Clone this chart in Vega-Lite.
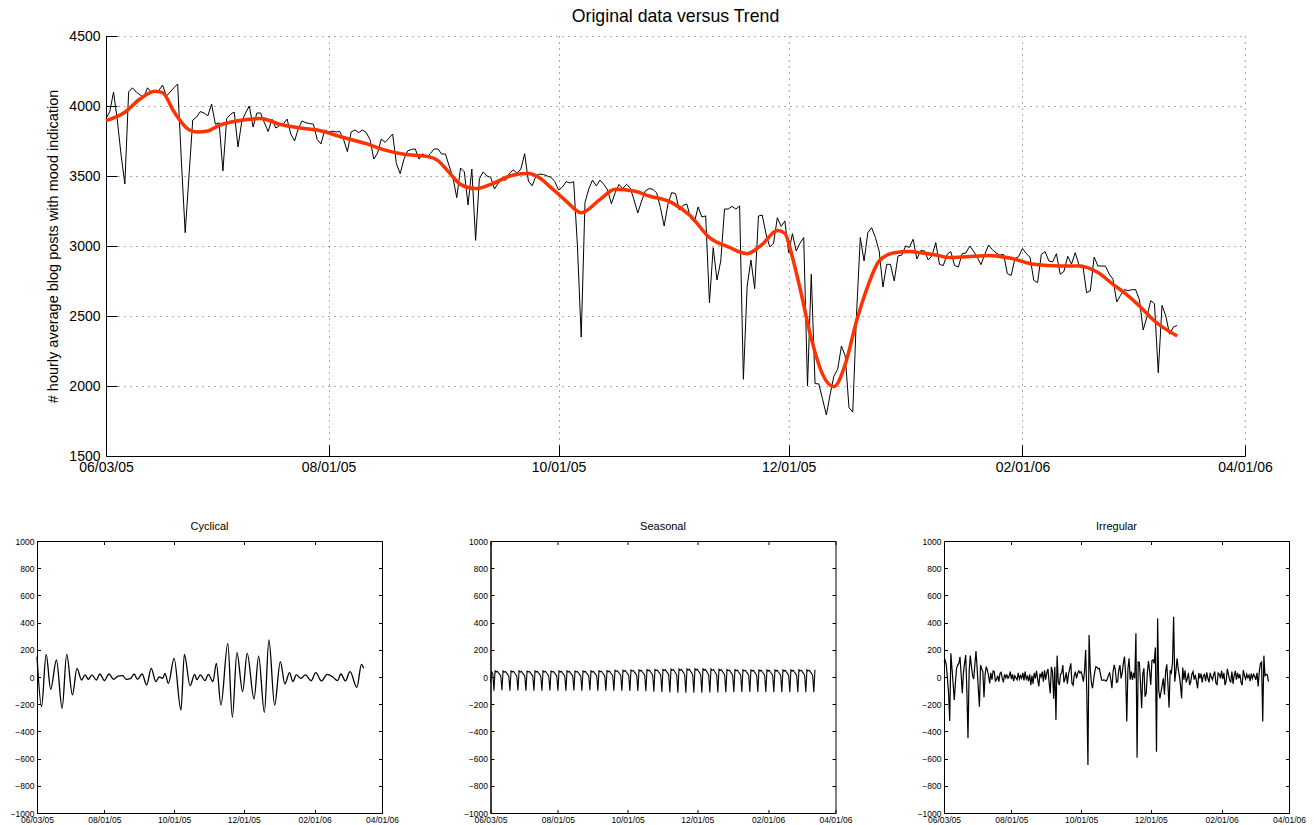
{
  "$schema": "https://vega.github.io/schema/vega-lite/v6.json",
  "background": "white",
  "padding": {"left": 9, "top": 8, "right": 3, "bottom": 2},
  "spacing": 46,
  "center": false,
  "config": {
    "font": "Liberation Sans",
    "axis": {"labelFont": "Liberation Sans", "titleFont": "Liberation Sans", "labelColor": "black", "titleColor": "black", "domainColor": "black", "tickColor": "black", "titleFontWeight": "normal", "labelFlush": false, "labelOverlap": false},
    "title": {"font": "Liberation Sans", "fontWeight": "normal", "color": "black"}
  },
  "datasets": {
    "daily": [
      {"date":"2005-06-03","orig":3910,"seas":-40,"irr":113},
      {"date":"2005-06-04","orig":3960,"seas":40,"irr":125},
      {"date":"2005-06-05","orig":4100,"seas":25,"irr":90},
      {"date":"2005-06-06","orig":3900,"seas":-100,"irr":-10},
      {"date":"2005-06-07","orig":3650,"seas":45,"irr":-120},
      {"date":"2005-06-08","orig":3443,"seas":37,"irr":-323},
      {"date":"2005-06-09","orig":4100,"seas":42,"irr":174},
      {"date":"2005-06-10","orig":4130,"seas":30,"irr":60},
      {"date":"2005-06-11","orig":4100,"seas":20,"irr":-50},
      {"date":"2005-06-12","orig":4080,"seas":7,"irr":-169},
      {"date":"2005-06-13","orig":4060,"seas":-98,"irr":-40},
      {"date":"2005-06-14","orig":4130,"seas":44,"irr":64},
      {"date":"2005-06-15","orig":4100,"seas":36,"irr":88},
      {"date":"2005-06-16","orig":4110,"seas":41,"irr":100},
      {"date":"2005-06-17","orig":4110,"seas":30,"irr":149},
      {"date":"2005-06-18","orig":4150,"seas":19,"irr":20},
      {"date":"2005-06-19","orig":4070,"seas":6,"irr":-120},
      {"date":"2005-06-20","orig":4100,"seas":-100,"irr":30},
      {"date":"2005-06-21","orig":4130,"seas":45,"irr":100},
      {"date":"2005-06-22","orig":4157,"seas":37,"irr":162},
      {"date":"2005-06-23","orig":3600,"seas":42,"irr":-100},
      {"date":"2005-06-24","orig":3095,"seas":31,"irr":-450},
      {"date":"2005-06-25","orig":3500,"seas":20,"irr":40},
      {"date":"2005-06-26","orig":3900,"seas":7,"irr":157},
      {"date":"2005-06-27","orig":3920,"seas":-99,"irr":80},
      {"date":"2005-06-28","orig":3960,"seas":45,"irr":10},
      {"date":"2005-06-29","orig":3950,"seas":36,"irr":-15},
      {"date":"2005-06-30","orig":3930,"seas":42,"irr":90},
      {"date":"2005-07-01","orig":4014,"seas":30,"irr":191},
      {"date":"2005-07-02","orig":3870,"seas":20,"irr":64},
      {"date":"2005-07-03","orig":3880,"seas":8,"irr":-80},
      {"date":"2005-07-04","orig":3536,"seas":-100,"irr":-218},
      {"date":"2005-07-05","orig":3910,"seas":44,"irr":88},
      {"date":"2005-07-06","orig":3940,"seas":37,"irr":60},
      {"date":"2005-07-07","orig":3957,"seas":41,"irr":39},
      {"date":"2005-07-08","orig":3707,"seas":30,"irr":-149},
      {"date":"2005-07-09","orig":3890,"seas":19,"irr":20},
      {"date":"2005-07-10","orig":3950,"seas":7,"irr":76},
      {"date":"2005-07-11","orig":4000,"seas":-101,"irr":51},
      {"date":"2005-07-12","orig":3850,"seas":45,"irr":10},
      {"date":"2005-07-13","orig":3950,"seas":37,"irr":-47},
      {"date":"2005-07-14","orig":3950,"seas":42,"irr":30},
      {"date":"2005-07-15","orig":3880,"seas":30,"irr":-20},
      {"date":"2005-07-16","orig":3817,"seas":20,"irr":45},
      {"date":"2005-07-17","orig":3907,"seas":6,"irr":40},
      {"date":"2005-07-18","orig":3843,"seas":-100,"irr":-30},
      {"date":"2005-07-19","orig":3860,"seas":45,"irr":-20},
      {"date":"2005-07-20","orig":3870,"seas":36,"irr":10},
      {"date":"2005-07-21","orig":3907,"seas":42,"irr":-35},
      {"date":"2005-07-22","orig":3800,"seas":31,"irr":25},
      {"date":"2005-07-23","orig":3750,"seas":20,"irr":35},
      {"date":"2005-07-24","orig":3840,"seas":7,"irr":-10},
      {"date":"2005-07-25","orig":3893,"seas":-99,"irr":-40},
      {"date":"2005-07-26","orig":3880,"seas":44,"irr":20},
      {"date":"2005-07-27","orig":3875,"seas":37,"irr":-5},
      {"date":"2005-07-28","orig":3870,"seas":41,"irr":15},
      {"date":"2005-07-29","orig":3760,"seas":30,"irr":-10},
      {"date":"2005-07-30","orig":3729,"seas":19,"irr":5},
      {"date":"2005-07-31","orig":3829,"seas":7,"irr":40},
      {"date":"2005-08-01","orig":3815,"seas":-100,"irr":-15},
      {"date":"2005-08-02","orig":3820,"seas":45,"irr":20},
      {"date":"2005-08-03","orig":3815,"seas":37,"irr":-30},
      {"date":"2005-08-04","orig":3817,"seas":42,"irr":10},
      {"date":"2005-08-05","orig":3760,"seas":30,"irr":-5},
      {"date":"2005-08-06","orig":3674,"seas":20,"irr":-20},
      {"date":"2005-08-07","orig":3814,"seas":8,"irr":30},
      {"date":"2005-08-08","orig":3829,"seas":-100,"irr":-15},
      {"date":"2005-08-09","orig":3810,"seas":45,"irr":10},
      {"date":"2005-08-10","orig":3829,"seas":36,"irr":-10},
      {"date":"2005-08-11","orig":3810,"seas":42,"irr":30},
      {"date":"2005-08-12","orig":3760,"seas":30,"irr":-25},
      {"date":"2005-08-13","orig":3621,"seas":20,"irr":40},
      {"date":"2005-08-14","orig":3664,"seas":7,"irr":-15},
      {"date":"2005-08-15","orig":3764,"seas":-99,"irr":5},
      {"date":"2005-08-16","orig":3740,"seas":44,"irr":-30},
      {"date":"2005-08-17","orig":3770,"seas":37,"irr":20},
      {"date":"2005-08-18","orig":3800,"seas":41,"irr":-60},
      {"date":"2005-08-19","orig":3588,"seas":31,"irr":10},
      {"date":"2005-08-20","orig":3517,"seas":19,"irr":-50},
      {"date":"2005-08-21","orig":3620,"seas":6,"irr":30},
      {"date":"2005-08-22","orig":3680,"seas":-100,"irr":-10},
      {"date":"2005-08-23","orig":3690,"seas":45,"irr":45},
      {"date":"2005-08-24","orig":3693,"seas":37,"irr":-20},
      {"date":"2005-08-25","orig":3621,"seas":42,"irr":-70},
      {"date":"2005-08-26","orig":3660,"seas":30,"irr":25},
      {"date":"2005-08-27","orig":3630,"seas":20,"irr":0},
      {"date":"2005-08-28","orig":3660,"seas":7,"irr":40},
      {"date":"2005-08-29","orig":3693,"seas":-98,"irr":-35},
      {"date":"2005-08-30","orig":3693,"seas":45,"irr":50},
      {"date":"2005-08-31","orig":3657,"seas":36,"irr":-20},
      {"date":"2005-09-01","orig":3657,"seas":42,"irr":30},
      {"date":"2005-09-02","orig":3571,"seas":30,"irr":60},
      {"date":"2005-09-03","orig":3488,"seas":20,"irr":-40},
      {"date":"2005-09-04","orig":3345,"seas":8,"irr":-120},
      {"date":"2005-09-05","orig":3557,"seas":-100,"irr":75},
      {"date":"2005-09-06","orig":3530,"seas":46,"irr":40},
      {"date":"2005-09-07","orig":3293,"seas":38,"irr":-160},
      {"date":"2005-09-08","orig":3550,"seas":43,"irr":76},
      {"date":"2005-09-09","orig":3040,"seas":31,"irr":-316},
      {"date":"2005-09-10","orig":3479,"seas":21,"irr":157},
      {"date":"2005-09-11","orig":3529,"seas":8,"irr":-34},
      {"date":"2005-09-12","orig":3500,"seas":-100,"irr":-60},
      {"date":"2005-09-13","orig":3490,"seas":47,"irr":20},
      {"date":"2005-09-14","orig":3407,"seas":39,"irr":30},
      {"date":"2005-09-15","orig":3450,"seas":44,"irr":88},
      {"date":"2005-09-16","orig":3470,"seas":32,"irr":-40},
      {"date":"2005-09-17","orig":3471,"seas":22,"irr":-10},
      {"date":"2005-09-18","orig":3521,"seas":9,"irr":34},
      {"date":"2005-09-19","orig":3543,"seas":-101,"irr":-50},
      {"date":"2005-09-20","orig":3520,"seas":49,"irr":20},
      {"date":"2005-09-21","orig":3550,"seas":41,"irr":60},
      {"date":"2005-09-22","orig":3659,"seas":46,"irr":100},
      {"date":"2005-09-23","orig":3464,"seas":34,"irr":-47},
      {"date":"2005-09-24","orig":3430,"seas":24,"irr":-60},
      {"date":"2005-09-25","orig":3500,"seas":11,"irr":10},
      {"date":"2005-09-26","orig":3514,"seas":-100,"irr":40},
      {"date":"2005-09-27","orig":3510,"seas":50,"irr":-10},
      {"date":"2005-09-28","orig":3500,"seas":42,"irr":27},
      {"date":"2005-09-29","orig":3490,"seas":47,"irr":45},
      {"date":"2005-09-30","orig":3460,"seas":35,"irr":30},
      {"date":"2005-10-01","orig":3400,"seas":25,"irr":39},
      {"date":"2005-10-02","orig":3420,"seas":12,"irr":10},
      {"date":"2005-10-03","orig":3460,"seas":-102,"irr":-34},
      {"date":"2005-10-04","orig":3450,"seas":51,"irr":40},
      {"date":"2005-10-05","orig":3460,"seas":43,"irr":198},
      {"date":"2005-10-06","orig":3000,"seas":48,"irr":-120},
      {"date":"2005-10-07","orig":2350,"seas":36,"irr":-647},
      {"date":"2005-10-08","orig":3310,"seas":25,"irr":309},
      {"date":"2005-10-09","orig":3407,"seas":12,"irr":60},
      {"date":"2005-10-10","orig":3471,"seas":-103,"irr":-40},
      {"date":"2005-10-11","orig":3429,"seas":52,"irr":-83},
      {"date":"2005-10-12","orig":3471,"seas":44,"irr":-20},
      {"date":"2005-10-13","orig":3440,"seas":49,"irr":40},
      {"date":"2005-10-14","orig":3400,"seas":37,"irr":76},
      {"date":"2005-10-15","orig":3302,"seas":26,"irr":70},
      {"date":"2005-10-16","orig":3380,"seas":13,"irr":60},
      {"date":"2005-10-17","orig":3440,"seas":-105,"irr":64},
      {"date":"2005-10-18","orig":3410,"seas":54,"irr":20},
      {"date":"2005-10-19","orig":3440,"seas":46,"irr":-22},
      {"date":"2005-10-20","orig":3415,"seas":51,"irr":-25},
      {"date":"2005-10-21","orig":3330,"seas":39,"irr":-20},
      {"date":"2005-10-22","orig":3236,"seas":28,"irr":-25},
      {"date":"2005-10-23","orig":3320,"seas":14,"irr":-30},
      {"date":"2005-10-24","orig":3393,"seas":-108,"irr":-15},
      {"date":"2005-10-25","orig":3410,"seas":55,"irr":15},
      {"date":"2005-10-26","orig":3405,"seas":47,"irr":30},
      {"date":"2005-10-27","orig":3380,"seas":52,"irr":-20},
      {"date":"2005-10-28","orig":3275,"seas":40,"irr":-83},
      {"date":"2005-10-29","orig":3143,"seas":29,"irr":40},
      {"date":"2005-10-30","orig":3300,"seas":14,"irr":90},
      {"date":"2005-10-31","orig":3381,"seas":-110,"irr":51},
      {"date":"2005-11-01","orig":3375,"seas":56,"irr":-40},
      {"date":"2005-11-02","orig":3257,"seas":48,"irr":-34},
      {"date":"2005-11-03","orig":3290,"seas":54,"irr":50},
      {"date":"2005-11-04","orig":3300,"seas":41,"irr":88},
      {"date":"2005-11-05","orig":3200,"seas":30,"irr":-10},
      {"date":"2005-11-06","orig":3170,"seas":15,"irr":30},
      {"date":"2005-11-07","orig":3279,"seas":-113,"irr":100},
      {"date":"2005-11-08","orig":3207,"seas":58,"irr":150},
      {"date":"2005-11-09","orig":3215,"seas":49,"irr":20},
      {"date":"2005-11-10","orig":2595,"seas":55,"irr":-328},
      {"date":"2005-11-11","orig":2988,"seas":42,"irr":60},
      {"date":"2005-11-12","orig":2757,"seas":30,"irr":137},
      {"date":"2005-11-13","orig":2893,"seas":15,"irr":-20},
      {"date":"2005-11-14","orig":3264,"seas":-115,"irr":40},
      {"date":"2005-11-15","orig":3264,"seas":59,"irr":-22},
      {"date":"2005-11-16","orig":3283,"seas":50,"irr":30},
      {"date":"2005-11-17","orig":3264,"seas":56,"irr":-10},
      {"date":"2005-11-18","orig":3286,"seas":43,"irr":321},
      {"date":"2005-11-19","orig":2048,"seas":31,"irr":-593},
      {"date":"2005-11-20","orig":2714,"seas":16,"irr":110},
      {"date":"2005-11-21","orig":2900,"seas":-116,"irr":108},
      {"date":"2005-11-22","orig":2695,"seas":60,"irr":-40},
      {"date":"2005-11-23","orig":3214,"seas":51,"irr":-230},
      {"date":"2005-11-24","orig":3221,"seas":57,"irr":20},
      {"date":"2005-11-25","orig":3086,"seas":43,"irr":64},
      {"date":"2005-11-26","orig":2993,"seas":31,"irr":-145},
      {"date":"2005-11-27","orig":3020,"seas":16,"irr":-120},
      {"date":"2005-11-28","orig":3202,"seas":-116,"irr":30},
      {"date":"2005-11-29","orig":3140,"seas":61,"irr":118},
      {"date":"2005-11-30","orig":3179,"seas":51,"irr":40},
      {"date":"2005-12-01","orig":2952,"seas":57,"irr":-58},
      {"date":"2005-12-02","orig":3088,"seas":44,"irr":120},
      {"date":"2005-12-03","orig":2964,"seas":31,"irr":125},
      {"date":"2005-12-04","orig":3020,"seas":16,"irr":100},
      {"date":"2005-12-05","orig":3060,"seas":-115,"irr":216},
      {"date":"2005-12-06","orig":2000,"seas":60,"irr":-549},
      {"date":"2005-12-07","orig":2798,"seas":50,"irr":431},
      {"date":"2005-12-08","orig":2017,"seas":56,"irr":-100},
      {"date":"2005-12-09","orig":2015,"seas":43,"irr":-157},
      {"date":"2005-12-10","orig":1905,"seas":30,"irr":-108},
      {"date":"2005-12-11","orig":1793,"seas":15,"irr":-60},
      {"date":"2005-12-12","orig":1940,"seas":-114,"irr":-10},
      {"date":"2005-12-13","orig":2071,"seas":59,"irr":-130},
      {"date":"2005-12-14","orig":2119,"seas":49,"irr":40},
      {"date":"2005-12-15","orig":2286,"seas":55,"irr":93},
      {"date":"2005-12-16","orig":2214,"seas":42,"irr":-50},
      {"date":"2005-12-17","orig":1845,"seas":30,"irr":-225},
      {"date":"2005-12-18","orig":1814,"seas":15,"irr":50},
      {"date":"2005-12-19","orig":2514,"seas":-113,"irr":30},
      {"date":"2005-12-20","orig":3060,"seas":57,"irr":100},
      {"date":"2005-12-21","orig":2893,"seas":48,"irr":443},
      {"date":"2005-12-22","orig":3095,"seas":54,"irr":-34},
      {"date":"2005-12-23","orig":3131,"seas":41,"irr":40},
      {"date":"2005-12-24","orig":3060,"seas":29,"irr":137},
      {"date":"2005-12-25","orig":2964,"seas":14,"irr":60},
      {"date":"2005-12-26","orig":2707,"seas":-112,"irr":10},
      {"date":"2005-12-27","orig":2869,"seas":55,"irr":-60},
      {"date":"2005-12-28","orig":2869,"seas":47,"irr":-157},
      {"date":"2005-12-29","orig":2750,"seas":52,"irr":70},
      {"date":"2005-12-30","orig":2929,"seas":40,"irr":-20},
      {"date":"2005-12-31","orig":2935,"seas":28,"irr":50},
      {"date":"2006-01-01","orig":3000,"seas":13,"irr":-40},
      {"date":"2006-01-02","orig":2990,"seas":-111,"irr":-10},
      {"date":"2006-01-03","orig":3048,"seas":54,"irr":30},
      {"date":"2006-01-04","orig":2907,"seas":46,"irr":-60},
      {"date":"2006-01-05","orig":2967,"seas":51,"irr":-35},
      {"date":"2006-01-06","orig":2965,"seas":39,"irr":20},
      {"date":"2006-01-07","orig":2900,"seas":27,"irr":40},
      {"date":"2006-01-08","orig":2930,"seas":13,"irr":-20},
      {"date":"2006-01-09","orig":3024,"seas":-110,"irr":15},
      {"date":"2006-01-10","orig":2869,"seas":53,"irr":-30},
      {"date":"2006-01-11","orig":2860,"seas":45,"irr":-83},
      {"date":"2006-01-12","orig":2940,"seas":50,"irr":30},
      {"date":"2006-01-13","orig":2960,"seas":38,"irr":-10},
      {"date":"2006-01-14","orig":2860,"seas":27,"irr":25},
      {"date":"2006-01-15","orig":2850,"seas":12,"irr":-40},
      {"date":"2006-01-16","orig":2945,"seas":-110,"irr":10},
      {"date":"2006-01-17","orig":2950,"seas":53,"irr":20},
      {"date":"2006-01-18","orig":3000,"seas":44,"irr":-30},
      {"date":"2006-01-19","orig":2965,"seas":50,"irr":35},
      {"date":"2006-01-20","orig":2920,"seas":38,"irr":-10},
      {"date":"2006-01-21","orig":2867,"seas":26,"irr":-40},
      {"date":"2006-01-22","orig":2940,"seas":12,"irr":30},
      {"date":"2006-01-23","orig":3007,"seas":-110,"irr":0},
      {"date":"2006-01-24","orig":2975,"seas":52,"irr":-20},
      {"date":"2006-01-25","orig":2950,"seas":44,"irr":15},
      {"date":"2006-01-26","orig":2935,"seas":49,"irr":40},
      {"date":"2006-01-27","orig":2940,"seas":37,"irr":-45},
      {"date":"2006-01-28","orig":2802,"seas":26,"irr":-55},
      {"date":"2006-01-29","orig":2790,"seas":12,"irr":30},
      {"date":"2006-01-30","orig":2910,"seas":-110,"irr":20},
      {"date":"2006-01-31","orig":2925,"seas":52,"irr":-10},
      {"date":"2006-02-01","orig":2983,"seas":44,"irr":45},
      {"date":"2006-02-02","orig":2945,"seas":49,"irr":-15},
      {"date":"2006-02-03","orig":2920,"seas":37,"irr":30},
      {"date":"2006-02-04","orig":2755,"seas":26,"irr":-60},
      {"date":"2006-02-05","orig":2738,"seas":11,"irr":-30},
      {"date":"2006-02-06","orig":2940,"seas":-111,"irr":60},
      {"date":"2006-02-07","orig":2960,"seas":52,"irr":20},
      {"date":"2006-02-08","orig":2893,"seas":44,"irr":-20},
      {"date":"2006-02-09","orig":2886,"seas":49,"irr":-40},
      {"date":"2006-02-10","orig":2945,"seas":37,"irr":40},
      {"date":"2006-02-11","orig":2798,"seas":26,"irr":-50},
      {"date":"2006-02-12","orig":2819,"seas":11,"irr":10},
      {"date":"2006-02-13","orig":2926,"seas":-111,"irr":45},
      {"date":"2006-02-14","orig":2871,"seas":52,"irr":-20},
      {"date":"2006-02-15","orig":2952,"seas":44,"irr":30},
      {"date":"2006-02-16","orig":2862,"seas":49,"irr":-10},
      {"date":"2006-02-17","orig":2862,"seas":37,"irr":20},
      {"date":"2006-02-18","orig":2667,"seas":25,"irr":-40},
      {"date":"2006-02-19","orig":2680,"seas":11,"irr":-60},
      {"date":"2006-02-20","orig":2921,"seas":-112,"irr":50},
      {"date":"2006-02-21","orig":2857,"seas":53,"irr":10},
      {"date":"2006-02-22","orig":2857,"seas":44,"irr":-15},
      {"date":"2006-02-23","orig":2857,"seas":50,"irr":20},
      {"date":"2006-02-24","orig":2800,"seas":37,"irr":-5},
      {"date":"2006-02-25","orig":2762,"seas":25,"irr":15},
      {"date":"2006-02-26","orig":2600,"seas":11,"irr":-30},
      {"date":"2006-02-27","orig":2648,"seas":-112,"irr":25},
      {"date":"2006-02-28","orig":2688,"seas":53,"irr":-10},
      {"date":"2006-03-01","orig":2681,"seas":45,"irr":20},
      {"date":"2006-03-02","orig":2688,"seas":50,"irr":5},
      {"date":"2006-03-03","orig":2688,"seas":38,"irr":-20},
      {"date":"2006-03-04","orig":2617,"seas":26,"irr":30},
      {"date":"2006-03-05","orig":2400,"seas":11,"irr":-70},
      {"date":"2006-03-06","orig":2493,"seas":-112,"irr":40},
      {"date":"2006-03-07","orig":2610,"seas":53,"irr":100},
      {"date":"2006-03-08","orig":2588,"seas":45,"irr":110},
      {"date":"2006-03-09","orig":2095,"seas":50,"irr":-328},
      {"date":"2006-03-10","orig":2576,"seas":38,"irr":157},
      {"date":"2006-03-11","orig":2500,"seas":26,"irr":10},
      {"date":"2006-03-12","orig":2370,"seas":11,"irr":20},
      {"date":"2006-03-13","orig":2421,"seas":-112,"irr":15},
      {"date":"2006-03-14","orig":2433,"seas":53,"irr":-34}
    ],
    "trend": [
      {"date":"2005-06-03","v":3895},{"date":"2005-06-08","v":3955},{"date":"2005-06-12","v":4050},{"date":"2005-06-16","v":4105},
      {"date":"2005-06-18","v":4095},{"date":"2005-06-21","v":3960},{"date":"2005-06-25","v":3830},{"date":"2005-06-27","v":3815},
      {"date":"2005-06-30","v":3822},{"date":"2005-07-03","v":3862},{"date":"2005-07-08","v":3895},{"date":"2005-07-14","v":3910},
      {"date":"2005-07-19","v":3870},{"date":"2005-07-24","v":3845},{"date":"2005-07-29","v":3828},{"date":"2005-08-05","v":3775},
      {"date":"2005-08-11","v":3731},{"date":"2005-08-16","v":3685},{"date":"2005-08-21","v":3655},{"date":"2005-08-27","v":3640},
      {"date":"2005-08-30","v":3610},{"date":"2005-09-02","v":3524},{"date":"2005-09-05","v":3440},{"date":"2005-09-09","v":3410},
      {"date":"2005-09-13","v":3440},{"date":"2005-09-19","v":3507},{"date":"2005-09-23","v":3517},{"date":"2005-09-26","v":3486},
      {"date":"2005-09-29","v":3417},{"date":"2005-10-03","v":3321},{"date":"2005-10-07","v":3238},{"date":"2005-10-12","v":3333},
      {"date":"2005-10-16","v":3405},{"date":"2005-10-21","v":3393},{"date":"2005-10-25","v":3357},{"date":"2005-10-31","v":3310},
      {"date":"2005-11-05","v":3214},{"date":"2005-11-10","v":3060},{"date":"2005-11-15","v":2993},{"date":"2005-11-20","v":2945},
      {"date":"2005-11-24","v":3012},{"date":"2005-11-28","v":3110},{"date":"2005-11-30","v":3090},{"date":"2005-12-02","v":2920},
      {"date":"2005-12-04","v":2700},{"date":"2005-12-07","v":2340},{"date":"2005-12-10","v":2083},{"date":"2005-12-13","v":1995},
      {"date":"2005-12-16","v":2155},{"date":"2005-12-19","v":2464},{"date":"2005-12-22","v":2714},{"date":"2005-12-25","v":2893},
      {"date":"2005-12-29","v":2952},{"date":"2006-01-02","v":2960},{"date":"2006-01-05","v":2952},{"date":"2006-01-09","v":2936},
      {"date":"2006-01-13","v":2917},{"date":"2006-01-19","v":2926},{"date":"2006-01-23","v":2933},{"date":"2006-01-29","v":2912},
      {"date":"2006-02-04","v":2869},{"date":"2006-02-11","v":2857},{"date":"2006-02-16","v":2857},{"date":"2006-02-21","v":2810},
      {"date":"2006-02-25","v":2726},{"date":"2006-02-28","v":2667},{"date":"2006-03-04","v":2571},{"date":"2006-03-08","v":2464},
      {"date":"2006-03-14","v":2357}
    ],
    "cyc": [
      {"date":"2005-06-03","v":150},{"date":"2005-06-07","v":-218},{"date":"2005-06-11","v":167},{"date":"2005-06-15","v":-91},
      {"date":"2005-06-20","v":125},{"date":"2005-06-25","v":-230},{"date":"2005-06-29","v":167},{"date":"2005-07-04","v":-132},
      {"date":"2005-07-08","v":64},{"date":"2005-07-12","v":-22},{"date":"2005-07-15","v":15},{"date":"2005-07-18","v":-17},
      {"date":"2005-07-21","v":15},{"date":"2005-07-25","v":-22},{"date":"2005-07-28","v":22},{"date":"2005-08-01","v":-27},
      {"date":"2005-08-05","v":22},{"date":"2005-08-09","v":-17},{"date":"2005-08-13","v":7},{"date":"2005-08-17","v":10},
      {"date":"2005-08-20","v":-17},{"date":"2005-08-24","v":-10},{"date":"2005-08-27","v":22},{"date":"2005-08-30","v":-17},
      {"date":"2005-09-03","v":22},{"date":"2005-09-07","v":-59},{"date":"2005-09-11","v":64},{"date":"2005-09-15","v":-34},
      {"date":"2005-09-18","v":0},{"date":"2005-09-21","v":-10},{"date":"2005-09-23","v":27},{"date":"2005-09-26","v":-47},
      {"date":"2005-10-01","v":137},{"date":"2005-10-07","v":-243},{"date":"2005-10-10","v":167},{"date":"2005-10-15","v":-64},
      {"date":"2005-10-19","v":20},{"date":"2005-10-21","v":-20},{"date":"2005-10-24","v":15},{"date":"2005-10-28","v":-27},
      {"date":"2005-10-31","v":20},{"date":"2005-11-04","v":-34},{"date":"2005-11-07","v":100},{"date":"2005-11-11","v":-206},
      {"date":"2005-11-17","v":247},{"date":"2005-11-21","v":-296},{"date":"2005-11-25","v":179},{"date":"2005-11-30","v":-108},
      {"date":"2005-12-04","v":174},{"date":"2005-12-10","v":-162},{"date":"2005-12-14","v":154},{"date":"2005-12-19","v":-260},
      {"date":"2005-12-23","v":272},{"date":"2005-12-28","v":-206},{"date":"2006-01-02","v":113},{"date":"2006-01-06","v":-51},
      {"date":"2006-01-10","v":32},{"date":"2006-01-13","v":-34},{"date":"2006-01-16","v":15},{"date":"2006-01-20","v":-10},
      {"date":"2006-01-24","v":15},{"date":"2006-01-29","v":-27},{"date":"2006-02-02","v":32},{"date":"2006-02-07","v":-29},
      {"date":"2006-02-12","v":20},{"date":"2006-02-17","v":0},{"date":"2006-02-21","v":-27},{"date":"2006-02-24","v":22},
      {"date":"2006-02-28","v":-29},{"date":"2006-03-04","v":39},{"date":"2006-03-10","v":-76},{"date":"2006-03-14","v":93},
      {"date":"2006-03-16","v":64}
    ]
  },
  "vconcat": [
    {
      "hconcat": [
        {
          "width": 1, "height": 1,
          "view": {"stroke": null},
          "data": {"values": []},
          "mark": "point"
        },
        {
          "width": 1139,
          "height": 420,
          "view": {"stroke": null},
          "title": {"text": "Original data versus Trend", "fontSize": 17.7, "offset": 3},
          "layer": [
            {
              "data": {"name": "daily"},
              "mark": {"type": "line", "color": "black", "strokeWidth": 1},
              "encoding": {
                "x": {
                  "field": "date", "type": "temporal",
                  "scale": {"type": "utc", "domain": [{"year": 2005, "month": 6, "date": 3, "utc": true}, {"year": 2006, "month": 4, "date": 1, "utc": true}]},
                  "axis": {
                    "title": null,
                    "values": [
                      {"year": 2005, "month": 6, "date": 3, "utc": true},
                      {"year": 2005, "month": 8, "date": 1, "utc": true},
                      {"year": 2005, "month": 10, "date": 1, "utc": true},
                      {"year": 2005, "month": 12, "date": 1, "utc": true},
                      {"year": 2006, "month": 2, "date": 1, "utc": true},
                      {"year": 2006, "month": 4, "date": 1, "utc": true}
                    ],
                    "format": "%m/%d/%y",
                    "labelFontSize": 14, "labelPadding": 15, "tickSize": -11,
                    "grid": true, "gridDash": [1, 5], "gridColor": "#555", "gridWidth": 1
                  }
                },
                "y": {
                  "field": "orig", "type": "quantitative",
                  "scale": {"domain": [1500, 4500], "nice": false, "zero": false},
                  "axis": {
                    "title": "# hourly average blog posts with mood indication",
                    "titleFontSize": 14.5, "titlePadding": 8,
                    "values": [1500, 2000, 2500, 3000, 3500, 4000, 4500],
                    "format": "d",
                    "labelFontSize": 14, "labelPadding": 17, "tickSize": -11,
                    "grid": true, "gridDash": [1, 5], "gridColor": "#555", "gridWidth": 1
                  }
                }
              }
            },
            {
              "data": {"name": "trend"},
              "mark": {"type": "line", "color": "#FF3300", "strokeWidth": 3.5, "interpolate": "monotone"},
              "encoding": {
                "x": {"field": "date", "type": "temporal"},
                "y": {"field": "v", "type": "quantitative"}
              }
            }
          ]
        }
      ],
      "spacing": 7
    },
    {
      "hconcat": [
        {
          "width": 345, "height": 272,
          "view": {"stroke": "black", "strokeWidth": 1},
          "title": {"text": "Cyclical", "fontSize": 11, "offset": 5},
          "data": {"name": "cyc"},
          "layer": [
            {
              "mark": {"type": "line", "color": "black", "strokeWidth": 1.3, "interpolate": "monotone"},
              "encoding": {
                "x": {
                  "field": "date", "type": "temporal",
                  "scale": {"type": "utc", "domain": [{"year": 2005, "month": 6, "date": 3, "utc": true}, {"year": 2006, "month": 4, "date": 1, "utc": true}]},
                  "axis": {"title": null, "grid": false, "values": [
                      {"year": 2005, "month": 6, "date": 3, "utc": true},
                      {"year": 2005, "month": 8, "date": 1, "utc": true},
                      {"year": 2005, "month": 10, "date": 1, "utc": true},
                      {"year": 2005, "month": 12, "date": 1, "utc": true},
                      {"year": 2006, "month": 2, "date": 1, "utc": true},
                      {"year": 2006, "month": 4, "date": 1, "utc": true}
                    ], "format": "%m/%d/%y", "labelFontSize": 8.5, "labelPadding": 5.5, "tickSize": -3.5}
                },
                "y": {
                  "field": "v", "type": "quantitative",
                  "scale": {"domain": [-1000, 1000], "nice": false},
                  "axis": {"title": null, "grid": false, "values": [-1000, -800, -600, -400, -200, 0, 200, 400, 600, 800, 1000], "format": "d", "labelFontSize": 8.5, "labelPadding": 6.5, "tickSize": -3.5}
                }
              }
            },
            {
              "mark": {"type": "line", "opacity": 0},
              "encoding": {
                "x": {"field": "date", "type": "temporal", "axis": {"orient": "top", "title": null, "labels": false, "domain": false, "grid": false, "tickSize": -3.5, "values": [
                      {"year": 2005, "month": 6, "date": 3, "utc": true},
                      {"year": 2005, "month": 8, "date": 1, "utc": true},
                      {"year": 2005, "month": 10, "date": 1, "utc": true},
                      {"year": 2005, "month": 12, "date": 1, "utc": true},
                      {"year": 2006, "month": 2, "date": 1, "utc": true},
                      {"year": 2006, "month": 4, "date": 1, "utc": true}
                    ]}},
                "y": {"field": "v", "type": "quantitative", "axis": {"orient": "right", "title": null, "labels": false, "domain": false, "grid": false, "tickSize": -3.5, "values": [-1000, -800, -600, -400, -200, 0, 200, 400, 600, 800, 1000]}}
              }
            }
          ],
          "resolve": {"axis": {"x": "independent", "y": "independent"}}
        },
        {
          "width": 345, "height": 272,
          "view": {"stroke": "black", "strokeWidth": 1},
          "title": {"text": "Seasonal", "fontSize": 11, "offset": 5},
          "data": {"name": "daily"},
          "layer": [
            {
              "mark": {"type": "line", "color": "black", "strokeWidth": 1.1},
              "encoding": {
                "x": {
                  "field": "date", "type": "temporal",
                  "scale": {"type": "utc", "domain": [{"year": 2005, "month": 6, "date": 3, "utc": true}, {"year": 2006, "month": 4, "date": 1, "utc": true}]},
                  "axis": {"title": null, "grid": false, "values": [
                      {"year": 2005, "month": 6, "date": 3, "utc": true},
                      {"year": 2005, "month": 8, "date": 1, "utc": true},
                      {"year": 2005, "month": 10, "date": 1, "utc": true},
                      {"year": 2005, "month": 12, "date": 1, "utc": true},
                      {"year": 2006, "month": 2, "date": 1, "utc": true},
                      {"year": 2006, "month": 4, "date": 1, "utc": true}
                    ], "format": "%m/%d/%y", "labelFontSize": 8.5, "labelPadding": 5.5, "tickSize": -3.5}
                },
                "y": {
                  "field": "seas", "type": "quantitative",
                  "scale": {"domain": [-1000, 1000], "nice": false},
                  "axis": {"title": null, "grid": false, "values": [-1000, -800, -600, -400, -200, 0, 200, 400, 600, 800, 1000], "format": "d", "labelFontSize": 8.5, "labelPadding": 6.5, "tickSize": -3.5}
                }
              }
            },
            {
              "mark": {"type": "line", "opacity": 0},
              "encoding": {
                "x": {"field": "date", "type": "temporal", "axis": {"orient": "top", "title": null, "labels": false, "domain": false, "grid": false, "tickSize": -3.5, "values": [
                      {"year": 2005, "month": 6, "date": 3, "utc": true},
                      {"year": 2005, "month": 8, "date": 1, "utc": true},
                      {"year": 2005, "month": 10, "date": 1, "utc": true},
                      {"year": 2005, "month": 12, "date": 1, "utc": true},
                      {"year": 2006, "month": 2, "date": 1, "utc": true},
                      {"year": 2006, "month": 4, "date": 1, "utc": true}
                    ]}},
                "y": {"field": "seas", "type": "quantitative", "axis": {"orient": "right", "title": null, "labels": false, "domain": false, "grid": false, "tickSize": -3.5, "values": [-1000, -800, -600, -400, -200, 0, 200, 400, 600, 800, 1000]}}
              }
            }
          ],
          "resolve": {"axis": {"x": "independent", "y": "independent"}}
        },
        {
          "width": 345, "height": 272,
          "view": {"stroke": "black", "strokeWidth": 1},
          "title": {"text": "Irregular", "fontSize": 11, "offset": 5},
          "data": {"name": "daily"},
          "layer": [
            {
              "mark": {"type": "line", "color": "black", "strokeWidth": 1.2},
              "encoding": {
                "x": {
                  "field": "date", "type": "temporal",
                  "scale": {"type": "utc", "domain": [{"year": 2005, "month": 6, "date": 3, "utc": true}, {"year": 2006, "month": 4, "date": 1, "utc": true}]},
                  "axis": {"title": null, "grid": false, "values": [
                      {"year": 2005, "month": 6, "date": 3, "utc": true},
                      {"year": 2005, "month": 8, "date": 1, "utc": true},
                      {"year": 2005, "month": 10, "date": 1, "utc": true},
                      {"year": 2005, "month": 12, "date": 1, "utc": true},
                      {"year": 2006, "month": 2, "date": 1, "utc": true},
                      {"year": 2006, "month": 4, "date": 1, "utc": true}
                    ], "format": "%m/%d/%y", "labelFontSize": 8.5, "labelPadding": 5.5, "tickSize": -3.5}
                },
                "y": {
                  "field": "irr", "type": "quantitative",
                  "scale": {"domain": [-1000, 1000], "nice": false},
                  "axis": {"title": null, "grid": false, "values": [-1000, -800, -600, -400, -200, 0, 200, 400, 600, 800, 1000], "format": "d", "labelFontSize": 8.5, "labelPadding": 6.5, "tickSize": -3.5}
                }
              }
            },
            {
              "mark": {"type": "line", "opacity": 0},
              "encoding": {
                "x": {"field": "date", "type": "temporal", "axis": {"orient": "top", "title": null, "labels": false, "domain": false, "grid": false, "tickSize": -3.5, "values": [
                      {"year": 2005, "month": 6, "date": 3, "utc": true},
                      {"year": 2005, "month": 8, "date": 1, "utc": true},
                      {"year": 2005, "month": 10, "date": 1, "utc": true},
                      {"year": 2005, "month": 12, "date": 1, "utc": true},
                      {"year": 2006, "month": 2, "date": 1, "utc": true},
                      {"year": 2006, "month": 4, "date": 1, "utc": true}
                    ]}},
                "y": {"field": "irr", "type": "quantitative", "axis": {"orient": "right", "title": null, "labels": false, "domain": false, "grid": false, "tickSize": -3.5, "values": [-1000, -800, -600, -400, -200, 0, 200, 400, 600, 800, 1000]}}
              }
            }
          ],
          "resolve": {"axis": {"x": "independent", "y": "independent"}}
        }
      ],
      "bounds": "flush",
      "spacing": 108.5
    }
  ]
}
